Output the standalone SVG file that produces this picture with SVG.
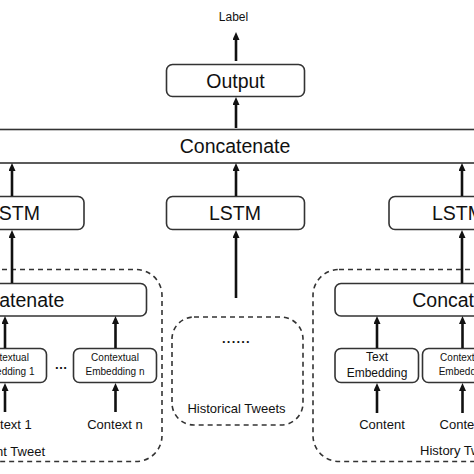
<svg xmlns="http://www.w3.org/2000/svg" width="474" height="474" viewBox="0 0 474 474">
<defs>
<marker id="ah" markerUnits="userSpaceOnUse" markerWidth="9" markerHeight="8" refX="3" refY="3.5" orient="auto">
<path d="M0,0 L8,3.5 L0,7 z" fill="#111"/>
</marker>
<style>
.box{fill:#fff;stroke:#333;stroke-width:1.6}
.dash{fill:none;stroke:#333;stroke-width:1.6;stroke-dasharray:5 4}
.arr{stroke:#111;stroke-width:2.6;fill:none;marker-end:url(#ah)}
text{font-family:"Liberation Sans",Arial,sans-serif;fill:#111;text-anchor:middle}
.big{font-size:19.5px}
.mid{font-size:13px}
.sm{font-size:10px}
.te{font-size:12px}
</style>
</defs>
<rect width="474" height="474" fill="#fff"/>

<g id="group-current">
<rect class="dash" x="-150" y="269.5" width="312" height="192" rx="26"/>
<text class="mid" x="45" y="456" style="text-anchor:end">Current Tweet</text>
</g>
<g id="group-historical">
<rect class="dash" x="172" y="317" width="131" height="108" rx="22"/>
<text class="mid" x="236.5" y="413">Historical Tweets</text>
<text class="mid" x="236.5" y="343" style="font-weight:bold;letter-spacing:1.2px">......</text>
</g>
<g id="group-history">
<rect class="dash" x="313" y="269.5" width="320" height="192" rx="26"/>
<text class="mid" x="420" y="455" style="text-anchor:start">History Tweets</text>
</g>

<g id="label"><text class="te" x="233.5" y="21">Label</text></g>
<g id="output">
<rect class="box" x="166.5" y="64.5" width="138" height="32" rx="6"/>
<text class="big" x="235.5" y="88">Output</text>
</g>
<g id="concat-top">
<rect class="box" x="-10" y="129.5" width="494" height="33.5"/>
<text class="big" x="235" y="153">Concatenate</text>
</g>
<g id="lstm-left">
<rect class="box" x="-55" y="196.5" width="139" height="33" rx="6"/>
<text class="big" x="14" y="220">LSTM</text>
</g>
<g id="lstm-mid">
<rect class="box" x="166.5" y="196.5" width="138" height="33" rx="6"/>
<text class="big" x="235" y="220">LSTM</text>
</g>
<g id="lstm-right">
<rect class="box" x="389" y="196.5" width="139" height="33" rx="6"/>
<text class="big" x="458" y="220">LSTM</text>
</g>
<g id="concat-left">
<rect class="box" x="-130" y="283.5" width="276.5" height="32.5" rx="6"/>
<text class="big" x="9" y="307">Concatenate</text>
</g>
<g id="concat-right">
<rect class="box" x="335" y="283.5" width="276" height="32.5" rx="6"/>
<text class="big" x="467.5" y="307">Concatenate</text>
</g>
<g id="ctx-emb-1">
<rect class="box" x="-37" y="348.5" width="83.5" height="34" rx="6"/>
<text class="sm" x="5" y="361">Contextual</text>
<text class="sm" x="5" y="374.5">Embedding 1</text>
</g>
<g id="ellipsis"><text class="mid" x="61" y="369" style="font-weight:bold">…</text></g>
<g id="ctx-emb-n">
<rect class="box" x="73.5" y="348.5" width="83" height="34" rx="6"/>
<text class="sm" x="115" y="361">Contextual</text>
<text class="sm" x="115" y="374.5">Embedding n</text>
</g>
<g id="text-emb">
<rect class="box" x="335" y="348.5" width="83.5" height="34" rx="6"/>
<text class="te" x="377" y="361">Text</text>
<text class="te" x="377" y="377">Embedding</text>
</g>
<g id="ctx-emb-r">
<rect class="box" x="422.5" y="348.5" width="83.5" height="34" rx="6"/>
<text class="sm" x="464" y="361">Contextual</text>
<text class="sm" x="464" y="374.5">Embedding</text>
</g>
<g id="ctx-1"><text class="mid" x="4" y="429">Context 1</text></g>
<g id="ctx-n"><text class="mid" x="115" y="429">Context n</text></g>
<g id="content"><text class="mid" x="382" y="428.5">Content</text></g>
<g id="ctx-r"><text class="mid" x="462" y="428.5">Context</text></g>

<g id="connectors">
<line class="arr" x1="236" y1="61" x2="236" y2="37"/>
<line class="arr" x1="236" y1="128" x2="236" y2="102"/>
<line class="arr" x1="12" y1="196" x2="12" y2="168"/>
<line class="arr" x1="236" y1="196" x2="236" y2="168"/>
<line class="arr" x1="462" y1="196" x2="462" y2="168"/>
<line class="arr" x1="12" y1="283" x2="12" y2="235"/>
<line class="arr" x1="236" y1="298" x2="236" y2="235"/>
<line class="arr" x1="462" y1="283" x2="462" y2="235"/>
<line class="arr" x1="5" y1="348" x2="5" y2="321"/>
<line class="arr" x1="115.5" y1="348" x2="115.5" y2="321"/>
<line class="arr" x1="377" y1="348" x2="377" y2="321"/>
<line class="arr" x1="462.5" y1="348" x2="462.5" y2="321"/>
<line class="arr" x1="5" y1="412" x2="5" y2="388"/>
<line class="arr" x1="115.5" y1="412" x2="115.5" y2="388"/>
<line class="arr" x1="377" y1="413" x2="377" y2="388"/>
<line class="arr" x1="462.5" y1="413" x2="462.5" y2="388"/>
</g>
</svg>
